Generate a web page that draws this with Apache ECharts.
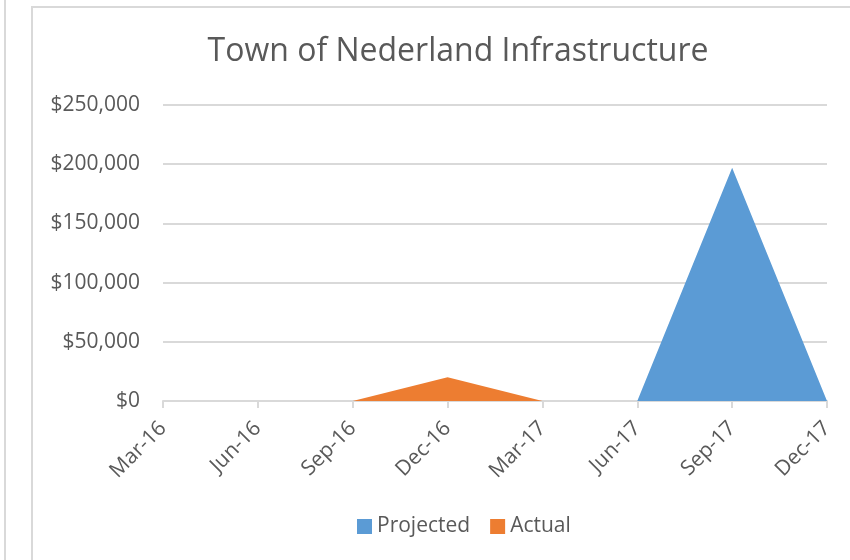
<!DOCTYPE html>
<html>
<head>
<meta charset="utf-8">
<script src="https://cdn.jsdelivr.net/npm/echarts@6/dist/echarts.min.js"></script>
<style>
  html, body { margin: 0; padding: 0; background: #fff; }
  #outer { position: absolute; left: 4px; top: 0; width: 2px; height: 560px; background: #d9d9d9; }
  #frame { position: absolute; left: 31px; top: 6px; width: 900px; height: 600px; border: 2px solid #d9d9d9; box-sizing: border-box; }
  #chart-container { position: absolute; left: 0; top: 0; width: 850px; height: 560px; }
</style>
</head>
<body>
<div id="outer"></div>
<div id="frame"></div>
<div id="chart-container"></div>
<script>
const months = ['Mar-16', 'Jun-16', 'Sep-16', 'Dec-16', 'Mar-17', 'Jun-17', 'Sep-17', 'Dec-17'];
const projected = [0, 0, 0, 0, 0, 0, 197000, 0];
const actual = [null, null, 0, 20000, 0, null, null, null];

const textColor = '#595959';
const lineColor = '#d9d9d9';
const fontFamily = '"Open Sans", "Noto Sans", sans-serif';

const dom = document.getElementById('chart-container');
const chart = echarts.init(dom, null, { renderer: 'canvas' });

const money = (v) => '$' + v.toLocaleString('en-US');

chart.setOption({
  animation: false,
  title: {
    text: 'Town of Nederland Infrastructure',
    left: 453,
    textAlign: 'center',
    top: 31,
    textStyle: { color: textColor, fontSize: 32, fontWeight: 'normal', fontFamily },
  },
  legend: {
    bottom: 18,
    left: 352,
    itemWidth: 15,
    itemHeight: 15,
    itemGap: 20,
    icon: 'rect',
    textStyle: { color: textColor, fontSize: 21, fontFamily },
    data: ['Projected', 'Actual'],
  },
  grid: { left: 163, right: 23, top: 105, bottom: 159, containLabel: false },
  xAxis: {
    type: 'category',
    data: months,
    boundaryGap: false,
    axisLine: { lineStyle: { color: lineColor, width: 2 } },
    axisTick: { show: true, length: 7, lineStyle: { color: lineColor, width: 2 } },
    axisLabel: { rotate: 45, color: textColor, fontSize: 21, fontFamily, margin: 24 },
    splitLine: { show: false },
  },
  yAxis: {
    type: 'value',
    min: 0,
    max: 250000,
    interval: 50000,
    axisLine: { show: false },
    axisTick: { show: false },
    axisLabel: { color: textColor, fontSize: 21, fontFamily, margin: 23, formatter: money },
    splitLine: { lineStyle: { color: lineColor, width: 2 } },
  },
  series: [
    {
      name: 'Projected',
      type: 'line',
      data: projected,
      symbol: 'none',
      lineStyle: { width: 0 },
      itemStyle: { color: '#5b9bd5' },
      areaStyle: { color: '#5b9bd5', opacity: 1 },
    },
    {
      name: 'Actual',
      type: 'line',
      data: actual,
      symbol: 'none',
      lineStyle: { width: 0 },
      itemStyle: { color: '#ed7d31' },
      areaStyle: { color: '#ed7d31', opacity: 1 },
    },
  ],
});
</script>
</body>
</html>
